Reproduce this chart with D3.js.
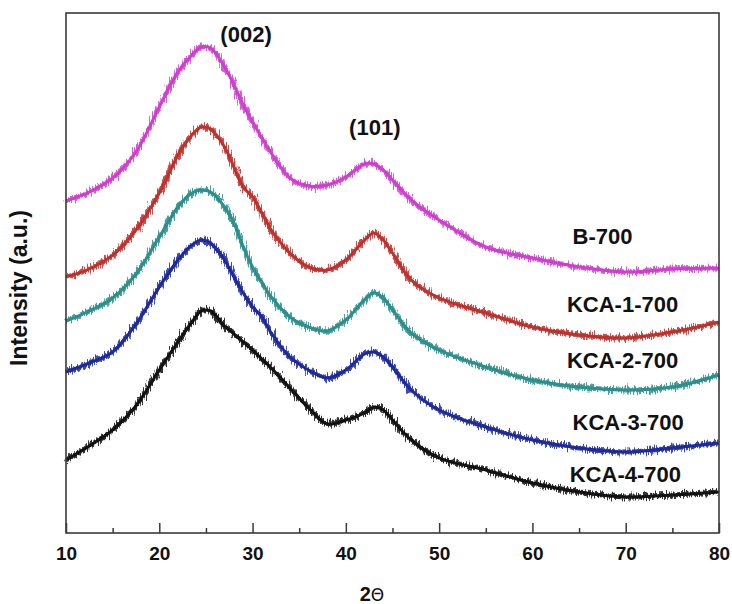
<!DOCTYPE html>
<html>
<head>
<meta charset="utf-8">
<script src="https://cdn.jsdelivr.net/npm/d3@7"></script>
<style>
  body { margin: 0; background: #fff; }
  text { font-family: "Liberation Sans", Arial, sans-serif; }
</style>
</head>
<body>
<div class="xrd-container"></div>
<script>
const angles = [10, 12.5, 15, 17.5, 20, 22, 23.5, 24.5, 25.5, 27, 28, 29, 30, 31, 32, 34, 36, 38, 40, 42, 43, 44, 45, 47, 50, 55, 60, 65, 70, 75, 80];

// intensities (a.u., stacked offsets included as plotted)
const b700 = [332, 341, 355, 381, 426, 461, 478, 486, 485, 466, 448, 428, 411, 395, 380, 355, 347, 348, 356, 369, 369, 363, 353, 333, 313, 286, 275, 266, 261, 264, 265];
const kca1 = [256, 264, 278, 303, 340, 378, 398, 406, 404, 386, 366, 346, 336, 320, 303, 280, 266, 263, 273, 293, 300, 293, 280, 253, 235, 220, 206, 198, 195, 201, 211];
const kca2 = [212, 222, 235, 259, 296, 326, 340, 343, 341, 326, 310, 286, 266, 250, 236, 216, 206, 202, 213, 233, 240, 235, 223, 200, 183, 166, 153, 146, 143, 146, 158];
const kca3 = [161, 170, 181, 209, 246, 273, 288, 293, 290, 273, 256, 240, 226, 216, 200, 176, 163, 155, 163, 179, 181, 176, 166, 143, 123, 106, 93, 85, 81, 85, 90];
const kca4 = [73, 87, 103, 127, 163, 191, 211, 222, 222, 207, 199, 191, 183, 174, 165, 145, 125, 109, 113, 120, 126, 123, 113, 93, 75, 63, 50, 41, 36, 38, 41];

const sampleNames = ["B-700", "KCA-1-700", "KCA-2-700", "KCA-3-700", "KCA-4-700"];
const majorTicks = [10, 20, 30, 40, 50, 60, 70, 80];
const minorTicks = [15, 25, 35, 45, 55, 65, 75];
const peakNames = ["(002)", "(101)"];

const colors = ["#d03ed0", "#c0302c", "#2b8f8c", "#1d2a9c", "#121212"];
const series = [b700, kca1, kca2, kca3, kca4];

// label anchors (angle, a.u.)
const labelPos = [[64.3, 289], [63.7, 221], [63.7, 165], [64.3, 103], [64.0, 51]];
const peakPos = [[29.3, 491], [43.1, 398]];

const width = 732, height = 604;
const margin = {top: 13, right: 13, bottom: 71, left: 66};

const xScale = d3.scaleLinear().domain([10, 80]).range([margin.left, width - margin.right]);
const yScale = d3.scaleLinear().domain([0, 520]).range([height - margin.bottom, margin.top]);

const svg = d3.select('.xrd-container')
  .append('svg')
  .attr('width', width)
  .attr('height', height);

// jagged look of the raw scan, done as a filter on the drawn line
const defs = svg.append('defs');
const filt = defs.append('filter')
  .attr('id', 'noisy')
  .attr('x', '-2%').attr('y', '-10%')
  .attr('width', '104%').attr('height', '120%');
filt.append('feTurbulence')
  .attr('type', 'fractalNoise')
  .attr('baseFrequency', '0.95 0.08')
  .attr('numOctaves', 2)
  .attr('seed', 4)
  .attr('result', 'n');
filt.append('feDisplacementMap')
  .attr('in', 'SourceGraphic')
  .attr('in2', 'n')
  .attr('scale', 11)
  .attr('xChannelSelector', 'R')
  .attr('yChannelSelector', 'G');

const line = d3.line()
  .x((d, i) => xScale(angles[i]))
  .y(d => yScale(d))
  .curve(d3.curveCatmullRom);

series.forEach((vals, k) => {
  svg.append('path')
    .datum(vals)
    .attr('fill', 'none')
    .attr('stroke', colors[k])
    .attr('stroke-width', 5)
    .attr('stroke-opacity', 0.85)
    .attr('filter', 'url(#noisy)')
    .attr('d', line);
  svg.append('path')
    .datum(vals)
    .attr('fill', 'none')
    .attr('stroke', colors[k])
    .attr('stroke-width', 3)
    .attr('d', line);
});

// frame
svg.append('rect')
  .attr('x', margin.left)
  .attr('y', margin.top)
  .attr('width', width - margin.left - margin.right)
  .attr('height', height - margin.top - margin.bottom)
  .attr('fill', 'none')
  .attr('stroke', '#3a3a3a')
  .attr('stroke-width', 1.6);

const xAxis = d3.axisBottom(xScale).tickValues(majorTicks).tickSize(-10).tickPadding(14);
const gx = svg.append('g')
  .attr('transform', 'translate(0,' + (height - margin.bottom) + ')')
  .call(xAxis);
gx.select('.domain').remove();
gx.selectAll('line').attr('stroke', '#3a3a3a').attr('stroke-width', 1.5);
gx.selectAll('text')
  .attr('fill', '#111')
  .style('font-size', '19px')
  .style('font-weight', 'bold');

const gm = svg.append('g')
  .attr('transform', 'translate(0,' + (height - margin.bottom) + ')')
  .call(d3.axisBottom(xScale).tickValues(minorTicks).tickSize(-5).tickFormat(''));
gm.select('.domain').remove();
gm.selectAll('line').attr('stroke', '#3a3a3a').attr('stroke-width', 1.5);

// sample names
svg.selectAll('.sample')
  .data(sampleNames)
  .enter().append('text')
  .attr('class', 'sample')
  .attr('x', (d, i) => xScale(labelPos[i][0]))
  .attr('y', (d, i) => yScale(labelPos[i][1]))
  .attr('fill', '#111')
  .style('font-size', '22px')
  .style('font-weight', 'bold')
  .text(d => d);

// reflections
svg.selectAll('.peak')
  .data(peakNames)
  .enter().append('text')
  .attr('class', 'peak')
  .attr('x', (d, i) => xScale(peakPos[i][0]))
  .attr('y', (d, i) => yScale(peakPos[i][1]))
  .attr('text-anchor', 'middle')
  .attr('fill', '#111')
  .style('font-size', '22px')
  .style('font-weight', 'bold')
  .text(d => d);

// axis titles
const xt = svg.append('text')
  .attr('x', 372)
  .attr('y', 601)
  .attr('text-anchor', 'middle')
  .attr('fill', '#111')
  .style('font-size', '20px');
xt.append('tspan').style('font-weight', 'bold').text('2');
xt.append('tspan').style('font-family', '"DejaVu Sans", sans-serif').style('font-size', '17px').text('Θ');

svg.append('text')
  .attr('transform', 'translate(27,' + 288 + ') rotate(-90)')
  .attr('text-anchor', 'middle')
  .attr('fill', '#111')
  .style('font-size', '23px')
  .style('font-weight', 'bold')
  .text('Intensity (a.u.)');
</script>
</body>
</html>
